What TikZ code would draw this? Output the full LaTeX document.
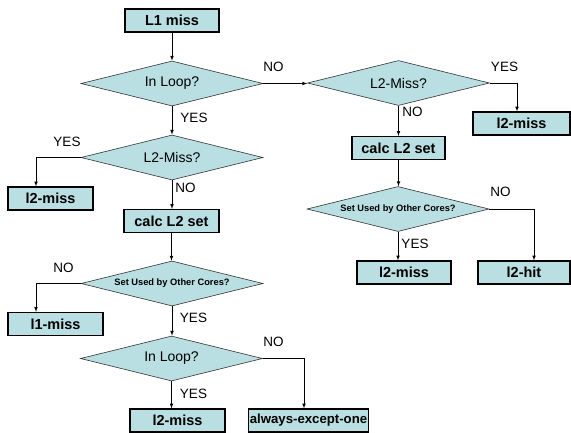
\documentclass[tikz,border=0pt]{standalone}
\usepackage{fontspec}
\setmainfont{Liberation Sans}
\usetikzlibrary{shapes.geometric}

\definecolor{boxfill}{RGB}{185,223,227}

\begin{document}
\begin{tikzpicture}[x=1pt,y=-1pt,->,>=latex,line width=0.7pt]
    \tikzstyle{block}=[rectangle,draw=black,line width=1.2pt,fill=boxfill,inner sep=0pt,minimum height=23pt,font=\fontsize{14.5}{16}\selectfont\bfseries]
    \tikzstyle{test}=[diamond,draw=black!80,line width=0.6pt,fill=boxfill,aspect=4,inner sep=0pt,minimum width=182pt,minimum height=45pt,font=\fontsize{14}{16}\selectfont]
    \tikzstyle{small test}=[test,font=\fontsize{9.3}{11}\selectfont\bfseries]
    \tikzstyle{answer}=[inner sep=0pt,font=\fontsize{13.5}{16}\selectfont]
    \useasboundingbox (0,0) rectangle (571,432);
    \node[block,minimum width=94pt] (L1miss) at (172,20.5) {L1 miss};
    \node[test] (loopA) at (172,83.5) {In Loop?};
    \node[test] (missA) at (172,157.5) {L2-Miss?};
    \node[block,minimum width=85pt] (outA) at (50.5,198.5) {l2-miss};
    \node[block,minimum width=95pt] (calcA) at (171.5,221) {calc L2 set};
    \node[small test] (usedA) at (172,283.5) {Set Used by Other Cores?};
    \node[block,minimum width=95pt] (outB) at (55.5,324) {l1-miss};
    \node[test] (loopB) at (171.5,358.5) {In Loop?};
    \node[block,minimum width=95pt] (outC) at (177.5,420.5) {l2-miss};
    \node[block,minimum width=120pt,font=\fontsize{13.2}{15}\selectfont\bfseries] (always) at (308.5,420.5) {always-except-one};
    \node[test] (missB) at (398.5,83) {L2-Miss?};
    \node[block,minimum width=97pt] (outD) at (521.5,123.5) {l2-miss};
    \node[block,minimum width=93pt] (calcB) at (398.5,148) {calc L2 set};
    \node[small test] (usedB) at (398,209) {Set Used by Other Cores?};
    \node[block,minimum width=94pt] (outE) at (404,272.5) {l2-miss};
    \node[block,minimum width=92pt] (hit) at (524,272.5) {l2-hit};
    \node[answer] (noA) at (273.5,67) {NO};
    \node[answer] (yesA) at (194,118) {YES};
    \node[answer] (yesB) at (67,142) {YES};
    \node[answer] (noB) at (185.5,188) {NO};
    \node[answer] (noC) at (63.5,268) {NO};
    \node[answer] (yesC) at (193.5,318) {YES};
    \node[answer] (noD) at (273.5,342) {NO};
    \node[answer] (yesD) at (193.5,394) {YES};
    \node[answer] (yesE) at (504.5,67) {YES};
    \node[answer] (noE) at (412.5,112) {NO};
    \node[answer] (noF) at (500.5,192) {NO};
    \node[answer] (yesF) at (415,244) {YES};
    \draw (L1miss.south) -- (loopA.north);
    \draw (loopA.east) -- (loopA.east -| missB.west);
    \draw (loopA.south) -- (missA.north);
    \draw (missA.west) -| ([xshift=-14.5pt]outA.north);
    \draw (missA.south) -- (missA.south |- calcA.north);
    \draw (calcA.south) -- (calcA.south |- usedA.north);
    \draw (usedA.west) -| ([xshift=-19.5pt]outB.north);
    \draw (usedA.south) -- (usedA.south |- loopB.north);
    \draw (loopB.south) -- (loopB.south |- outC.north);
    \draw (loopB.east) -| ([xshift=-4.5pt]always.north);
    \draw (missB.east) -| ([xshift=-4.5pt]outD.north);
    \draw (missB.south) -- (missB.south |- calcB.north);
    \draw (calcB.south) -- (calcB.south |- usedB.north);
    \draw (usedB.east) -| ([xshift=10pt]hit.north);
    \draw (usedB.south) -- (usedB.south |- outE.north);
\end{tikzpicture}
\end{document}
